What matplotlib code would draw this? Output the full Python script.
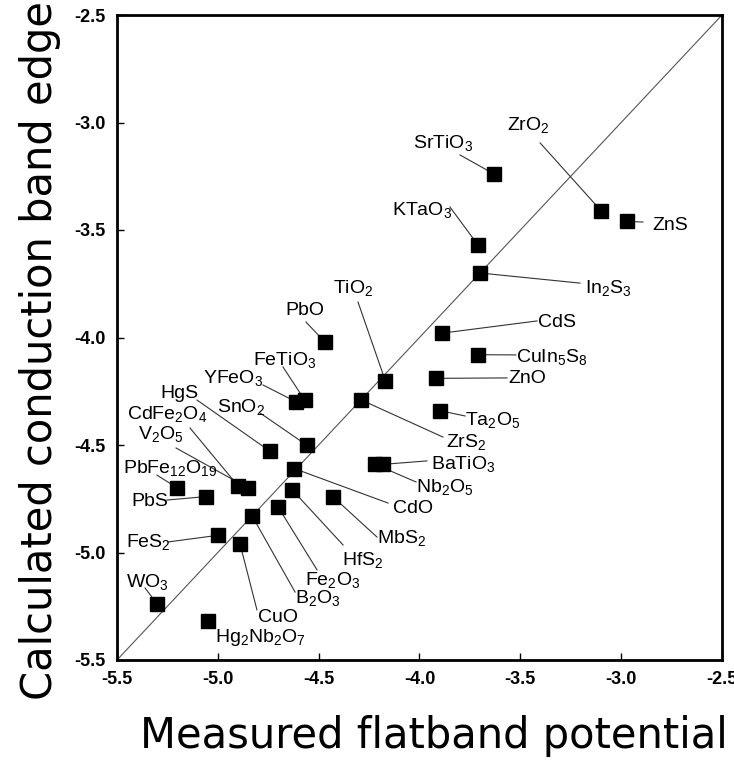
import matplotlib
matplotlib.use("Agg")
import matplotlib.pyplot as plt

plt.rcParams["font.family"] = ["Liberation Sans", "DejaVu Sans"]
plt.rcParams["mathtext.fontset"] = "custom"
plt.rcParams["mathtext.rm"] = "Liberation Sans"
plt.rcParams["mathtext.default"] = "rm"

# compound names, measured flatband potential (x) and calculated CB edge (y)
names = [
    "ZrO$_2$", "ZnS", "SrTiO$_3$", "KTaO$_3$", "In$_2$S$_3$", "CdS",
    "CuIn$_5$S$_8$", "ZnO", "TiO$_2$", "PbO", "FeTiO$_3$", "YFeO$_3$",
    "ZrS$_2$", "Ta$_2$O$_5$", "BaTiO$_3$", "Nb$_2$O$_5$", "SnO$_2$", "HgS",
    "CdO", "CdFe$_2$O$_4$", "V$_2$O$_5$", "PbFe$_{12}$O$_{19}$", "PbS",
    "HfS$_2$", "MbS$_2$", "Fe$_2$O$_3$", "B$_2$O$_3$", "FeS$_2$", "CuO",
    "WO$_3$", "Hg$_2$Nb$_2$O$_7$",
]
measured = [
    -3.10, -2.97, -3.63, -3.71, -3.70, -3.89,
    -3.71, -3.92, -4.17, -4.47, -4.57, -4.61,
    -4.29, -3.90, -4.18, -4.22, -4.56, -4.74,
    -4.62, -4.90, -4.85, -5.20, -5.06,
    -4.63, -4.43, -4.70, -4.83, -5.00, -4.89,
    -5.30, -5.05,
]
calculated = [
    -3.41, -3.46, -3.24, -3.57, -3.70, -3.98,
    -4.08, -4.19, -4.20, -4.02, -4.29, -4.30,
    -4.29, -4.34, -4.59, -4.59, -4.50, -4.53,
    -4.61, -4.69, -4.70, -4.70, -4.74,
    -4.71, -4.74, -4.79, -4.83, -4.92, -4.96,
    -5.24, -5.32,
]

# label placement: text left/baseline, then start of the leader line
label_xy = [
    (-3.566, -3.035), (-2.847, -3.500), (-4.032, -3.119), (-4.136, -3.430),
    (-3.179, -3.793), (-3.412, -3.951), (-3.522, -4.114), (-3.561, -4.212),
    (-4.429, -3.793), (-4.667, -3.895), (-4.826, -4.128), (-5.074, -4.212),
    (-3.869, -4.509), (-3.774, -4.407), (-3.943, -4.612), (-4.017, -4.719),
    (-5.004, -4.347), (-5.287, -4.281), (-4.131, -4.816), (-5.450, -4.379),
    (-5.396, -4.472), (-5.470, -4.630), (-5.431, -4.784), (-4.384, -5.058),
    (-4.211, -4.956), (-4.568, -5.151), (-4.617, -5.235), (-5.455, -4.974),
    (-4.801, -5.323), (-5.455, -5.160), (-5.014, -5.416),
]
line_start = [
    (-3.402, -3.095), (-2.892, -3.463), (-3.799, -3.151), (-3.849, -3.393),
    (-3.204, -3.747), (-3.417, -3.923), (-3.522, -4.081), (-3.566, -4.188),
    (-4.305, -3.835), (-4.563, -3.928), (-4.677, -4.137), (-4.776, -4.221),
    (-3.884, -4.463), (-3.774, -4.365), (-3.963, -4.574), (-4.017, -4.672),
    (-4.791, -4.351), (-5.103, -4.291), (-4.156, -4.770), (-5.138, -4.421),
    (-5.207, -4.514), (-5.302, -4.640), (-5.252, -4.756), (-4.379, -4.965),
    (-4.211, -4.928), (-4.508, -5.081), (-4.617, -5.184), (-5.247, -4.951),
    (-4.806, -5.267), (-5.361, -5.165), (-5.014, -5.347),
]

ticks = [-5.5, -5.0, -4.5, -4.0, -3.5, -3.0, -2.5]

fig = plt.figure(figsize=(7.34, 7.61), dpi=100)
ax = fig.add_axes([117 / 734, 1 - 660 / 761, 605 / 734, 645 / 761])

ax.plot([-5.5, -2.5], [-5.5, -2.5], color="#555555", lw=0.8, zorder=1)

for (sx, sy), x, y in zip(line_start, measured, calculated):
    ax.plot([sx, x], [sy, y], color="#333333", lw=0.8, zorder=1)
ax.plot(measured, calculated, "s", color="black", markersize=10, zorder=3)
for name, (lx, ly) in zip(names, label_xy):
    ax.text(lx, ly, name, fontsize=14, ha="left", va="baseline", zorder=4)

tick_font = dict(family=["Liberation Sans Narrow", "Liberation Sans"],
                 fontweight="bold", fontsize=13)
ax.set_xlim(-5.5, -2.5)
ax.set_ylim(-5.5, -2.5)
ax.set_xticks(ticks)
ax.set_yticks(ticks)
ax.set_xticklabels([f"{t:.1f}" for t in ticks], **tick_font)
ax.set_yticklabels([f"{t:.1f}" for t in ticks], **tick_font)
ax.tick_params(direction="in", length=5, width=1, pad=8)
for s in ax.spines.values():
    s.set_linewidth(2)

fig.text(434 / 734, 1 - 748 / 761, "Measured flatband potential",
         family="DejaVu Sans", fontsize=30, ha="center", va="baseline")
fig.text(40 / 734, 1 - 350 / 761, "Calculated conduction band edge",
         family="DejaVu Sans", fontsize=30, ha="center", va="center",
         rotation=90)

fig.savefig("out.png", dpi=100)
